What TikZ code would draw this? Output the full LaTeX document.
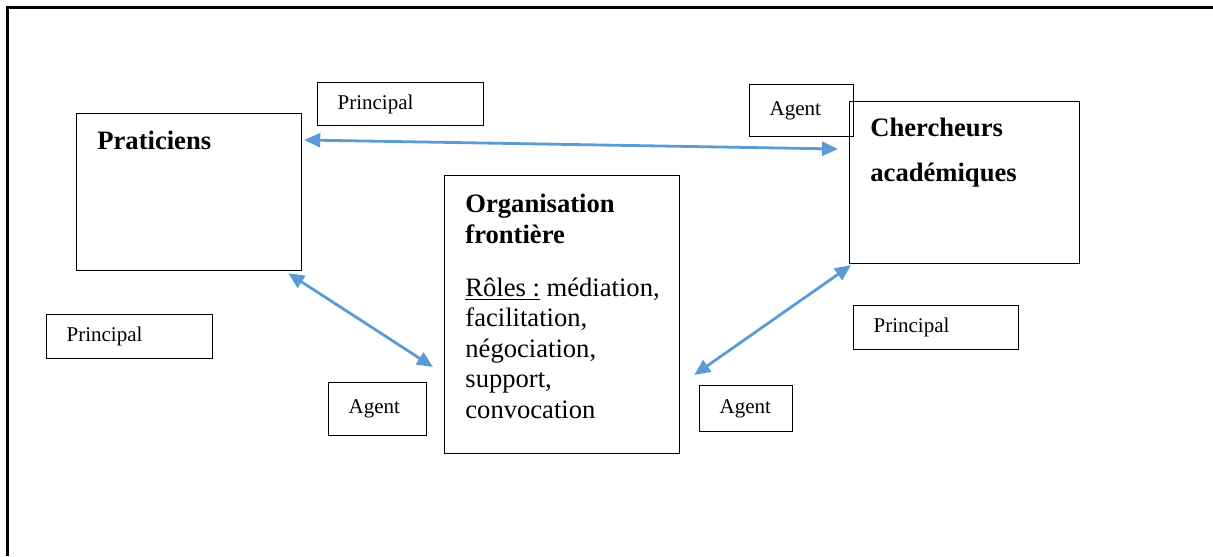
\documentclass[tikz,border=0pt]{standalone}
\usepackage{fontspec}
\setmainfont{Liberation Serif}
\usetikzlibrary{arrows.meta}
\definecolor{linkblue}{RGB}{91,155,213}
\begin{document}
\begin{tikzpicture}[x=0.5pt, y=-0.5pt,
	bigbox/.style={draw, line width=0.6pt, inner sep=0pt, anchor=north west},
	tag/.style={draw, line width=0.6pt, inner xsep=10pt, inner ysep=0pt, anchor=north west, align=left, font=\fontsize{10.5}{12}\selectfont},
	title/.style={inner sep=0pt, anchor=north west, align=left, font=\fontsize{13.3}{15.25}\selectfont},
	link/.style={linkblue, line width=1.4pt, {Triangle[length=8pt,width=7pt]}-{Triangle[length=8pt,width=7pt]}}]
\useasboundingbox (0,0) rectangle (1213,556);
\draw[line width=1.5pt] (7,556) -- (7,8) -- (1213,8);

% boxes
\node[bigbox, minimum width=112.5pt, minimum height=78.5pt] (prat) at (76,113) {};
\node[bigbox, minimum width=115pt, minimum height=81pt] (cherch) at (849,101) {};
\node[bigbox, minimum width=117.5pt, minimum height=139pt] (org) at (444,175) {};
\node[title] (pratname) at ([shift={(21,18)}]prat.north west) {\textbf{Praticiens}};
\node[title, font=\fontsize{13.3}{22.5}\selectfont] (cherchname) at ([shift={(21,17)}]cherch.north west) {\textbf{Chercheurs}\\\textbf{acad\'emiques}};
\node[title] (orgname) at ([shift={(21,19)}]org.north west)
	{\textbf{Organisation}\\\textbf{frontière}\\[11.25pt]
	\underline{Rôles :} médiation,\\ facilitation,\\ négociation,\\ support,\\ convocation};

% principal / agent
\node[tag, text width=63pt, minimum height=21.5pt] (pr1) at (317,82) {Principal};
\node[tag, text width=32pt, minimum height=26pt] (ag1) at (749,84) {Agent};
\node[tag, text width=63pt, minimum height=22pt] (pr2) at (46,314) {Principal};
\node[tag, text width=29pt, minimum height=26.5pt] (ag2) at (328,382) {Agent};
\node[tag, text width=62.5pt, minimum height=22pt] (pr3) at (853,305) {Principal};
\node[tag, text width=26.5pt, minimum height=23pt] (ag3) at (699,385) {Agent};

% links
\draw[link] ([shift={(2,27)}]prat.north east) -- ([shift={(-11,48)}]cherch.north west);
\draw[link] ([shift={(-14,2)}]prat.south east) -- ([shift={(-11,192)}]org.north west);
\draw[link] ([shift={(2,1)}]cherch.south west) -- ([shift={(14,200)}]org.north east);

\end{tikzpicture}
\end{document}
